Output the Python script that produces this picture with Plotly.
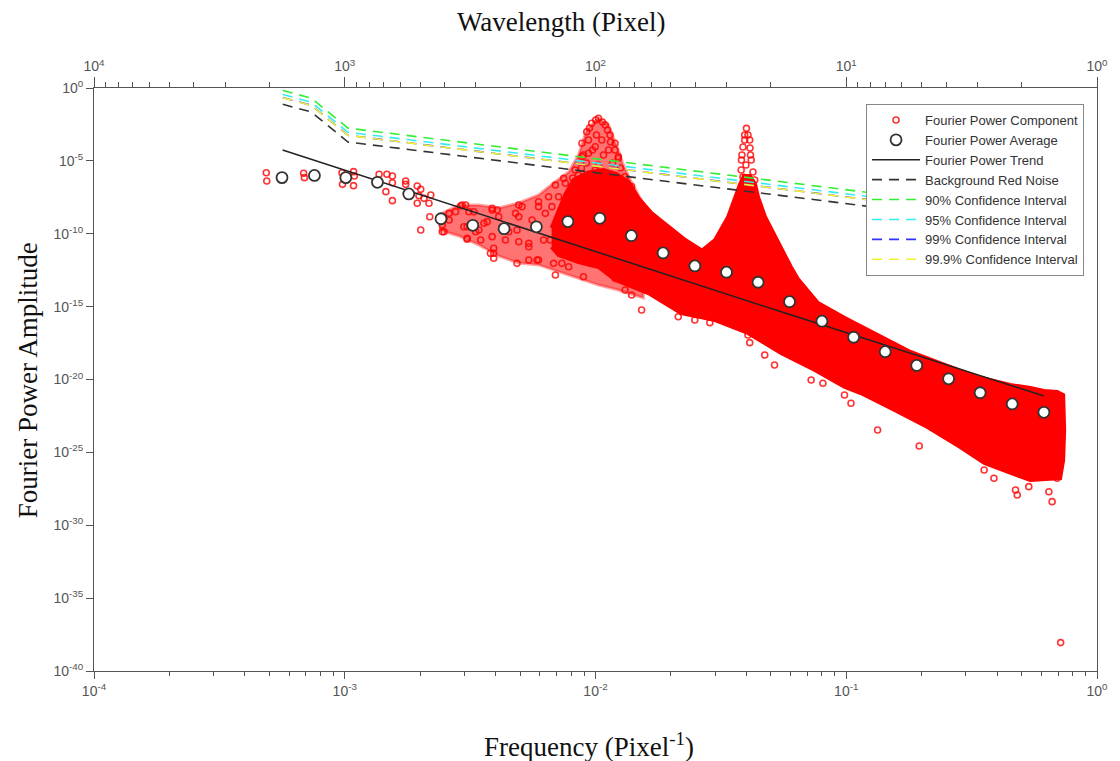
import numpy as np
import plotly.graph_objects as go

# ---------------- data ----------------
# Fourier Power Average
avg_freq = [5.62e-4, 7.57e-4, 1.01e-3, 1.35e-3, 1.80e-3, 2.42e-3, 3.24e-3, 4.32e-3,
            5.81e-3, 7.76e-3, 1.04e-2, 1.39e-2, 1.86e-2, 2.49e-2, 3.33e-2, 4.45e-2,
            5.94e-2, 8.0e-2, 1.07e-1, 1.43e-1, 1.91e-1, 2.56e-1, 3.42e-1, 4.59e-1, 6.14e-1]
avg_power = [7.1e-7, 1.0e-6, 7.1e-7, 3.4e-7, 5.4e-8, 1.07e-9, 3.8e-10, 2.24e-10,
             3.0e-10, 6.8e-10, 1.15e-9, 7.4e-11, 4.8e-12, 6.2e-13, 2.3e-13, 4.7e-14,
             2.2e-15, 1.0e-16, 7.9e-18, 8.1e-19, 9.3e-20, 1.12e-20, 1.23e-21, 2.1e-22, 5.6e-23]

# Fourier Power Trend
trend_freq = [5.65e-4, 5.35e-2, 6.14e-1]
trend_power = [5.57e-5, 5.2e-16, 7.4e-22]

# Background red noise and confidence levels
noise_freq = [5.66e-4, 7.36e-4, 1.03e-3, 1.09e-1, 6.15e-1]
red_noise = [7.6e-2, 2.25e-2, 1.97e-4, 9.3e-9, 2.45e-10]
ci90 = [6.8e-1, 2.0e-1, 1.76e-3, 8.3e-8, 2.2e-9]
ci95 = [3.6e-1, 1.05e-1, 9.2e-4, 4.4e-8, 1.15e-9]
ci99 = [2.2e-1, 6.5e-2, 5.7e-4, 2.7e-8, 7.0e-10]
ci999 = [2.15e-1, 6.35e-2, 5.6e-4, 2.6e-8, 6.9e-10]

# Fourier Power Component: outline of the solid part of the cloud (log10 f, log10 P)
env_logf = [-2.175, -2.120, -2.087, -2.028, -1.968, -1.916, -1.869, -1.829, -1.777, -1.710, -1.642,
            -1.575, -1.523, -1.471, -1.443, -1.423, -1.408, -1.384, -1.364, -1.352, -1.324,
            -1.272, -1.221, -1.193, -1.113, -1.006, -0.875, -0.744, -0.608, -0.477, -0.346,
            -0.266, -0.211, -0.159, -0.135, -0.131, -0.135, -0.147, -0.266, -0.346, -0.449,
            -0.545, -0.676, -0.807, -0.942, -1.006, -1.125, -1.260, -1.392, -1.523, -1.658,
            -1.789, -1.920, -1.988, -2.068, -2.147, -2.175]
env_logp = [-9.60, -7.30, -6.30, -5.80, -5.63, -5.90, -6.45, -7.55, -8.58, -9.54, -10.43,
            -11.16, -10.43, -8.85, -7.48, -6.59, -6.04, -6.04, -6.59, -7.48, -8.85,
            -10.63, -12.28, -13.10, -14.75, -15.78, -16.95, -18.11, -19.00, -19.83, -20.38,
            -20.58, -20.79, -20.86, -21.06, -23.46, -25.52, -26.76, -26.90, -26.41, -25.73,
            -24.63, -23.26, -22.09, -20.93, -20.51, -19.35, -18.18, -16.81, -15.92, -15.44,
            -14.07, -13.17, -12.28, -11.94, -11.46, -10.90]

# Fourier Power Component: outline of the half-filled part (left cloud and first peak)
half_logf = [-2.624, -2.545, -2.465, -2.386, -2.306, -2.227, -2.167, -2.107, -2.068, -2.036,
             -1.988, -1.948, -1.909, -1.889, -1.861, -1.809,
             -1.809, -1.909, -1.988, -2.068, -2.147, -2.227, -2.306, -2.386, -2.465, -2.545,
             -2.624]
half_logp = [-8.71, -8.03, -8.03, -8.23, -7.89, -7.34, -6.52, -5.76, -4.60, -2.88,
             -2.06, -2.54, -4.25, -5.28, -6.31, -7.96,
             -14.41, -13.86, -13.52, -13.04, -12.62, -12.14, -12.01, -11.53, -10.77, -10.15,
             -9.74]

# Fourier Power Component: individual scattered points (log10 f, log10 P)
comp_logf = [-3.313, -3.311, -3.164, -3.161, -3.011, -2.965, -2.962, -3.009, -2.965, -2.863,
             -2.832, -2.810, -2.810, -2.836, -2.810, -2.757, -2.757, -2.711, -2.697, -2.704,
             -2.684, -2.711, -2.664, -2.661, -2.697, -2.611, -2.611, -2.584, -2.558, -2.538,
             -2.518, -2.505, -2.485, -2.512, -2.512, -2.465, -2.458, -2.412, -2.392, -2.432,
             -2.406, -2.406, -2.359, -2.319, -2.293, -2.313, -2.306, -2.313, -2.266, -2.253,
             -2.227, -2.200, -2.227, -2.160, -2.147, -2.174, -2.180, -2.167, -2.127, -2.114,
             -2.657, -2.604, -2.604, -2.584, -2.532, -2.525, -2.512, -2.478, -2.445, -2.412,
             -2.386, -2.412, -2.419, -2.406, -2.346, -2.306, -2.306, -2.266, -2.266, -2.233,
             -2.227, -2.207, -2.187, -2.160, -2.134, -2.120, -2.107, -2.094, -2.081, -2.054,
             -2.028, -2.048, -2.001, -1.948, -1.909, -1.922, -1.882,
             -1.988, -2.015, -1.961, -2.035, -1.942, -2.054, -1.922, -2.048, -1.922, -1.909,
             -2.068, -2.001, -1.975, -2.081, -1.882, -1.856,
             -1.999, -1.972, -2.024, -1.952, -1.996, -2.028, -1.940, -2.012, -1.968, -2.036,
             -1.932, -1.988, -1.900, -2.056, -2.091,
             -1.398, -1.405, -1.392, -1.405, -1.385, -1.412, -1.384, -1.416, -1.382, -1.418,
             -1.379, -1.400, -1.419, -1.372, -1.412, -1.365,
             -1.856, -1.816, -1.670, -1.604, -1.544, -1.392, -1.385, -1.325, -1.286, -1.140,
             -1.093, -1.007, -0.981, -0.875, -0.709, -0.450, -0.411, -0.325, -0.318, -0.272,
             -0.192, -0.179, -0.159, -0.145]
comp_logp = [-5.81, -6.38, -5.85, -6.15, -5.81, -5.74, -6.04, -6.61, -6.70, -5.92,
             -5.92, -6.04, -6.50, -7.11, -7.73, -6.38, -6.61, -6.72, -6.95, -7.39,
             -7.57, -7.91, -7.91, -8.83, -9.74, -9.40, -9.86, -9.06, -8.49, -8.10,
             -8.03, -8.49, -8.49, -9.52, -10.31, -9.74, -10.43, -8.25, -8.37, -9.17,
             -11.00, -11.34, -10.43, -8.60, -8.14, -9.74, -10.55, -12.03, -10.66, -9.06,
             -7.80, -8.60, -11.80, -6.66, -7.46, -8.14, -10.43, -12.03, -6.20, -7.68,
             -7.34, -8.94, -9.86, -8.60, -8.03, -9.52, -10.38, -9.86, -9.28, -8.37,
             -8.83, -10.20, -11.34, -11.68, -9.86, -8.03, -8.83, -11.80, -10.89, -11.80,
             -8.14, -10.43, -7.46, -12.83, -12.03, -6.54, -12.26, -7.22, -5.63, -4.71,
             -4.48, -12.95, -5.63, -4.25, -4.71, -13.06, -13.86,
             -2.08, -2.42, -2.54, -3.00, -3.22, -3.79, -3.79, -4.60, -4.25, -4.82,
             -5.97, -4.03, -3.57, -6.77, -6.09, -6.77,
             -2.20, -2.33, -2.74, -2.88, -3.22, -3.57, -3.70, -4.25, -4.60, -5.15,
             -5.15, -5.28, -5.49, -5.49, -6.17,
             -2.77, -3.22, -3.22, -3.57, -3.57, -4.05, -4.12, -4.60, -4.60, -4.94,
             -4.94, -5.28, -5.63, -5.76, -6.11, -6.31,
             -14.20, -15.23, -15.69, -15.92, -16.10, -16.95, -17.47, -18.32, -19.00, -20.03,
             -20.26, -21.06, -21.63, -23.46, -24.56, -26.21, -26.78, -27.58, -27.92, -27.35,
             -27.70, -28.38, -26.78, -38.05]

# axis tick labels
x_tick_exp = [-4, -3, -2, -1, 0]
wl_tick_exp = [4, 3, 2, 1, 0]
y_tick_exp = [0, -5, -10, -15, -20, -25, -30, -35, -40]

# ---------------- figure ----------------
W, H = 1120, 761
L, R, T, B = 94, 20, 88, 90
pw, ph = W - L - R, H - T - B

def px(xp):
    return (xp - L) / pw

def py(yp):
    return (H - B - yp) / ph

red = 'rgb(255,0,0)'
tick_font = dict(family='Liberation Sans, Arial', size=14, color='#555555')
serif = dict(family='Liberation Serif, Times New Roman', size=27, color='#111111')

fig = go.Figure()

# half-filled part of the component cloud
fig.add_trace(go.Scatter(
    x=10 ** np.array(half_logf), y=10 ** np.array(half_logp), mode='lines',
    fill='toself', fillcolor='rgba(255,0,0,0.55)', line=dict(color='rgba(255,0,0,0.35)', width=3),
    showlegend=False, hoverinfo='skip'))

# solid part of the component cloud
fig.add_trace(go.Scatter(
    x=10 ** np.array(env_logf), y=10 ** np.array(env_logp), mode='lines',
    fill='toself', fillcolor=red, line=dict(color=red, width=4),
    showlegend=False, hoverinfo='skip'))

# scattered component points
fig.add_trace(go.Scatter(
    x=10 ** np.array(comp_logf), y=10 ** np.array(comp_logp), mode='markers',
    name='Fourier Power Component', legendrank=1,
    marker=dict(symbol='circle-open', size=6, color='rgba(255,0,0,0.8)',
                line=dict(width=1.6))))

fig.add_trace(go.Scatter(
    x=trend_freq, y=trend_power, mode='lines', name='Fourier Power Trend', legendrank=3,
    line=dict(color='#222222', width=1.5)))

fig.add_trace(go.Scatter(
    x=avg_freq, y=avg_power, mode='markers', name='Fourier Power Average', legendrank=2,
    marker=dict(symbol='circle', size=11, color='white',
                line=dict(color='#333333', width=1.8))))

dash = '10px,7px'
for name, vals, col, rk in [
        ('Background Red Noise', red_noise, '#333333', 4),
        ('90% Confidence Interval', ci90, '#33ee33', 5),
        ('95% Confidence Interval', ci95, '#33eeee', 6),
        ('99% Confidence Interval', ci99, '#3333ff', 7),
        ('99.9% Confidence Interval', ci999, '#f2f233', 8)]:
    fig.add_trace(go.Scatter(x=noise_freq, y=vals, mode='lines', name=name, legendrank=rk,
                             line=dict(color=col, width=1.6, dash=dash)))

# carrier for the wavelength axis
fig.add_trace(go.Scatter(x=[1e4, 1], y=[1e-45, 1e-45], xaxis='x2', mode='markers',
                         marker=dict(opacity=0), showlegend=False, hoverinfo='skip'))

x_minor = [k * 10.0 ** d for d in range(-4, 0) for k in range(2, 10)]
wl_minor = [k * 10.0 ** d for d in range(0, 4) for k in range(2, 10)]

fig.update_layout(
    width=W, height=H, margin=dict(l=L, r=R, t=T, b=B),
    paper_bgcolor='white', plot_bgcolor='white',
    showlegend=True,
    xaxis=dict(type='log', range=[-4, 0], showgrid=False, zeroline=False,
               showline=True, linecolor='#555555', linewidth=1,
               ticks='outside', ticklen=7, tickcolor='#555555',
               tickvals=[10.0 ** e for e in x_tick_exp],
               ticktext=['10<sup>%d</sup>' % e for e in x_tick_exp],
               tickfont=tick_font,
               minor=dict(tickmode='array', tickvals=x_minor, ticks='outside',
                          ticklen=4, tickcolor='#555555', showgrid=False)),
    xaxis2=dict(type='log', range=[4, 0], overlaying='x', side='top', anchor='y',
                showgrid=False, zeroline=False, showline=True, linecolor='#555555',
                linewidth=1, ticks='outside', ticklen=10, tickcolor='#555555',
                tickvals=[10.0 ** e for e in wl_tick_exp],
                ticktext=['10<sup>%d</sup>' % e for e in wl_tick_exp],
                tickfont=tick_font,
                minor=dict(tickmode='array', tickvals=wl_minor, ticks='outside',
                           ticklen=5, tickcolor='#555555', showgrid=False)),
    yaxis=dict(type='log', range=[-40, 0], showgrid=False, zeroline=False,
               showline=True, mirror=True, linecolor='#555555', linewidth=1,
               ticks='outside', ticklen=7, tickcolor='#555555',
               tickvals=[10.0 ** e for e in y_tick_exp],
               ticktext=['10<sup>%d</sup>' % e for e in y_tick_exp],
               tickfont=tick_font),
    legend=dict(x=px(1087), y=py(104), xanchor='right', yanchor='top',
                bgcolor='white', bordercolor='#888888', borderwidth=1,
                font=dict(family='Liberation Sans, Arial', size=13, color='#333333'),
                itemwidth=48, tracegroupgap=0),
    annotations=[
        dict(text='Wavelength (Pixel)', x=px(563), y=py(22), xref='paper', yref='paper',
             showarrow=False, font=serif, xanchor='center', yanchor='middle'),
        dict(text='Frequency (Pixel<sup>-1</sup>)', x=px(590), y=py(745), xref='paper',
             yref='paper', showarrow=False, font=serif, xanchor='center', yanchor='middle'),
        dict(text='Fourier Power Amplitude', x=px(28), y=py(380), xref='paper', yref='paper',
             showarrow=False, font=serif, textangle=-90, xanchor='center', yanchor='middle'),
    ],
)

fig.write_html('out.html')
